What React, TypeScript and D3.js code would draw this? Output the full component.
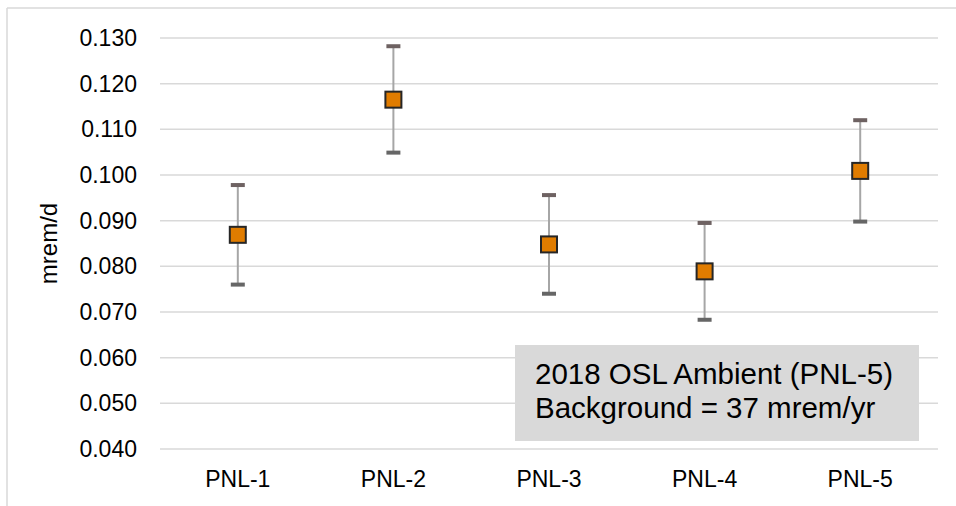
import React from "react";
import * as d3 from "d3";

const categories = ["PNL-1", "PNL-2", "PNL-3", "PNL-4", "PNL-5"];
const values = [0.0869, 0.1165, 0.0848, 0.0789, 0.1009];
const upper = [0.0978, 0.1282, 0.0956, 0.0895, 0.1120];
const lower = [0.0760, 0.1049, 0.0740, 0.0683, 0.0898];
const yTicks = [0.04, 0.05, 0.06, 0.07, 0.08, 0.09, 0.1, 0.11, 0.12, 0.13];
const yTitle = "mrem/d";
const noteLines = ["2018 OSL Ambient (PNL-5)", "Background = 37 mrem/yr"];

const W = 956;
const H = 506;
const FONT = "Liberation Sans, Arial, sans-serif";

export default function App() {
  const x = d3.scaleBand<string>().domain(categories).range([160, 938]).padding(0);
  const y = d3.scaleLinear().domain([0.04, 0.13]).range([449, 38]);
  const fmt = d3.format(".3f");
  const cx = (c: string) => (x(c) as number) + x.bandwidth() / 2;
  const ms = 16;

  return (
    <svg
      width={W}
      height={H}
      style={{ position: "absolute", left: 0, top: 0, background: "#fff" }}
      fontFamily={FONT}
    >
      <rect x={0} y={0} width={W} height={H} fill="#fff" />
      {/* chart border */}
      <line x1={7} y1={8} x2={W} y2={8} stroke="#d9d9d9" strokeWidth={1.5} />
      <line x1={7} y1={8} x2={7} y2={H} stroke="#d9d9d9" strokeWidth={1.5} />

      {/* gridlines */}
      {yTicks.map((t) => (
        <line
          key={"g" + t}
          x1={160}
          x2={938}
          y1={y(t)}
          y2={y(t)}
          stroke="#d9d9d9"
          strokeWidth={1.5}
        />
      ))}
      {/* y tick labels */}
      {yTicks.map((t) => (
        <text
          key={"t" + t}
          x={137}
          y={y(t)}
          dy="0.35em"
          textAnchor="end"
          fontSize={23}
          fill="#000"
        >
          {fmt(t)}
        </text>
      ))}
      {/* y title */}
      <text
        transform={`translate(${57},${(y(0.04) + y(0.13)) / 2}) rotate(-90)`}
        textAnchor="middle"
        fontSize={24}
        fill="#000"
      >
        {yTitle}
      </text>
      {/* x labels */}
      {categories.map((c) => (
        <text key={"x" + c} x={cx(c)} y={487} textAnchor="middle" fontSize={23} fill="#000">
          {c}
        </text>
      ))}

      {/* annotation box */}
      <rect x={515} y={345} width={404} height={96} fill="#d9d9d9" />
      {noteLines.map((l, i) => (
        <text key={"n" + i} x={535} y={384 + i * 34} fontSize={29.5} fill="#000">
          {l}
        </text>
      ))}

      {/* error bars and markers */}
      {categories.map((c, i) => (
        <g key={"e" + c}>
          <line
            x1={cx(c)}
            x2={cx(c)}
            y1={y(upper[i])}
            y2={y(lower[i])}
            stroke="#a6a6a6"
            strokeWidth={2}
          />
          <line x1={cx(c) - 7} x2={cx(c) + 7} y1={y(upper[i])} y2={y(upper[i])} stroke="#6e6262" strokeWidth={4} />
          <line x1={cx(c) - 7} x2={cx(c) + 7} y1={y(lower[i])} y2={y(lower[i])} stroke="#666" strokeWidth={4} />
          <rect
            x={cx(c) - ms / 2}
            y={y(values[i]) - ms / 2}
            width={ms}
            height={ms}
            fill="#e07c00"
            stroke="#262626"
            strokeWidth={2}
          />
        </g>
      ))}
    </svg>
  );
}
